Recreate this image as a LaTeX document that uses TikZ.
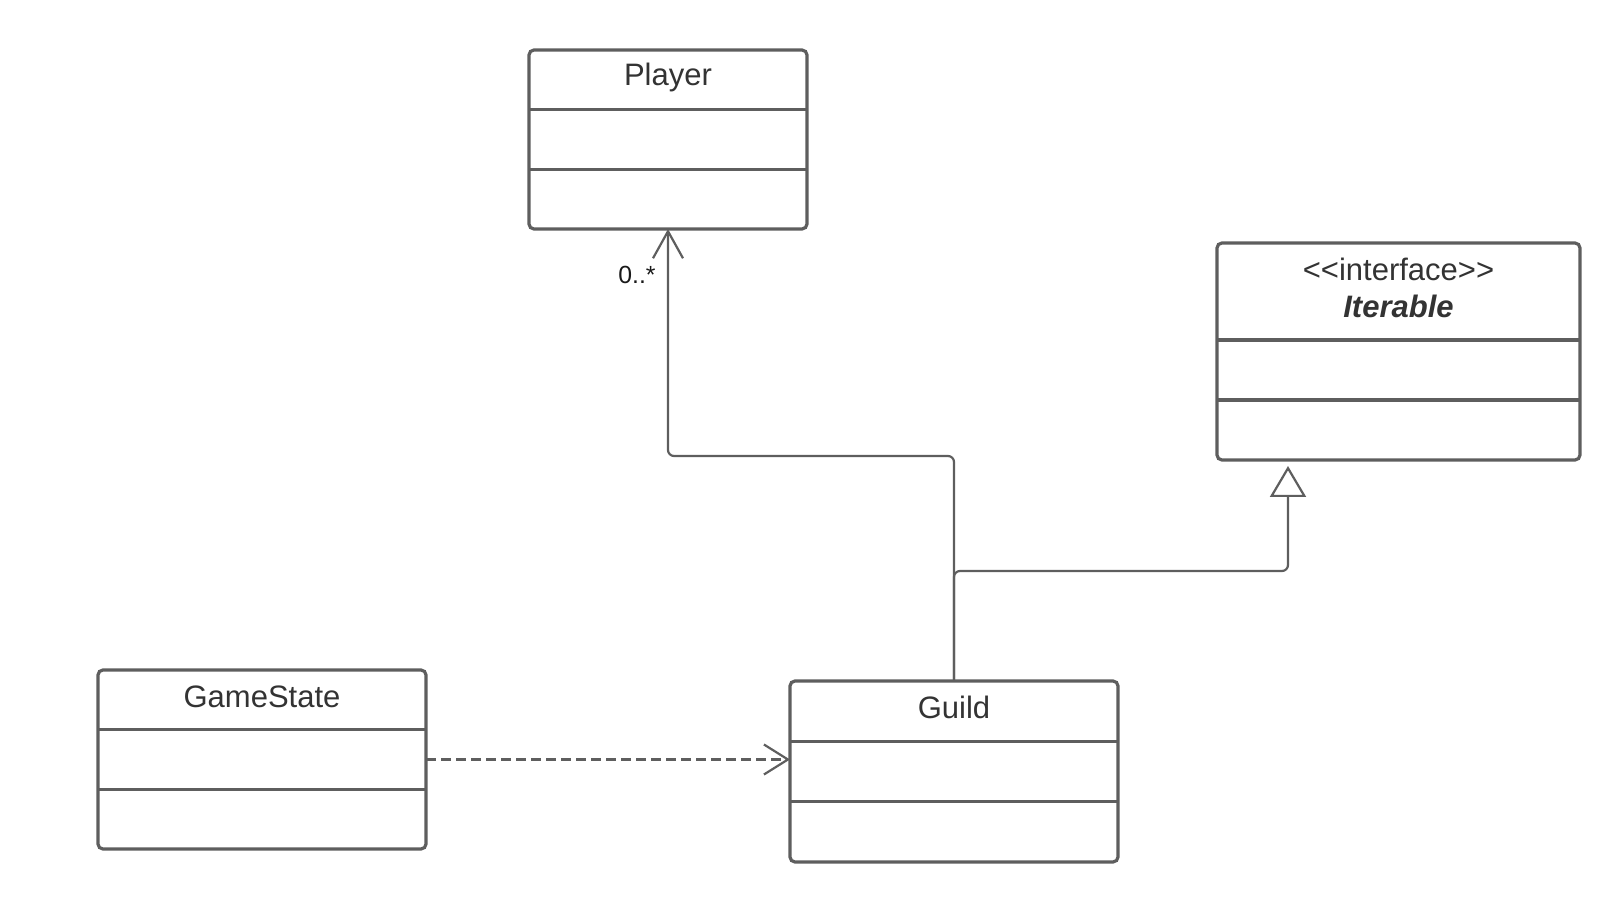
\documentclass[tikz,border=0pt]{standalone}
\usepackage{fontspec}
\setmainfont{Liberation Sans}
\usetikzlibrary{arrows.meta,calc}
\definecolor{umlline}{HTML}{5E5E5E}
\definecolor{umltext}{HTML}{333333}
\begin{document}
\begin{tikzpicture}[x=0.5pt,y=-0.5pt,
  classbox/.style={draw=umlline,line width=1.6pt,rounded corners=2.5pt,rectangle,inner sep=0pt,outer sep=0pt,fill=white},
  divider/.style={draw=umlline,line width=1.6pt},
  classtitle/.style={text=umltext,font=\fontsize{15.5}{18.5}\selectfont,align=center,inner sep=0pt},
  conn/.style={draw=umlline,line width=1.1pt,rounded corners=3pt},
  mult/.style={text=black!90,font=\fontsize{12.4}{14}\selectfont,inner sep=0pt}]
\useasboundingbox (0,0) rectangle (1624,914);
% classes
\node[classbox,minimum width=139pt,minimum height=89.5pt] (Player) at (668,139.5) {};
\node[classbox,minimum width=181.5pt,minimum height=108.5pt] (Iterable) at (1398.5,351.5) {};
\node[classbox,minimum width=164pt,minimum height=90.5pt] (Guild) at (954,771.5) {};
\node[classbox,minimum width=164pt,minimum height=89.5pt] (GameState) at (262,759.5) {};
% dividers
\foreach \n in {Player,Guild,GameState}{
  \draw[divider] ($(\n.north west)!1/3!(\n.south west)$) -- ($(\n.north east)!1/3!(\n.south east)$);
  \draw[divider] ($(\n.north west)!2/3!(\n.south west)$) -- ($(\n.north east)!2/3!(\n.south east)$);
}
\draw[divider] ($(Iterable.north west)!0.447!(Iterable.south west)$) -- ($(Iterable.north east)!0.447!(Iterable.south east)$);
\draw[divider] ($(Iterable.north west)!0.7235!(Iterable.south west)$) -- ($(Iterable.north east)!0.7235!(Iterable.south east)$);
% titles
\node[classtitle] (PlayerT) at ($(Player.north)!0.156!(Player.south)$) {Player};
\node[classtitle] (GuildT) at ($(Guild.north)!0.145!(Guild.south)$) {Guild};
\node[classtitle] (GameStateT) at ($(GameState.north)!0.148!(GameState.south)$) {GameState};
\node[classtitle] (IterableT) at ($(Iterable.north)!0.205!(Iterable.south)$) {{<}{<}interface{>}{>}\\\textbf{\textit{Iterable}}};
% connectors
\coordinate (bendA) at (0,456);
\coordinate (bendB) at (0,571);
\coordinate (genEnd) at (1288,461);
\draw[conn,-{Straight Barb[length=13.5pt,width=15pt,line width=1.1pt]}]
  (Guild.north) -- (Guild.north |- bendA) -- (Player.south |- bendA) -- (Player.south);
\draw[conn,-{Triangle[length=15.5pt,width=18pt,fill=white,line width=1.1pt]}]
  (Guild.north) -- (Guild.north |- bendB) -- (genEnd |- bendB) -- ([yshift=-2.5pt]genEnd);
\draw[conn,dash pattern=on 5pt off 2.5pt,-{Straight Barb[length=12pt,width=15pt,line width=1.1pt]}]
  (GameState.east) -- (Guild.west |- GameState.east);
\node[mult] (multP) at (637,274.5) {0..*};
\end{tikzpicture}
\end{document}
